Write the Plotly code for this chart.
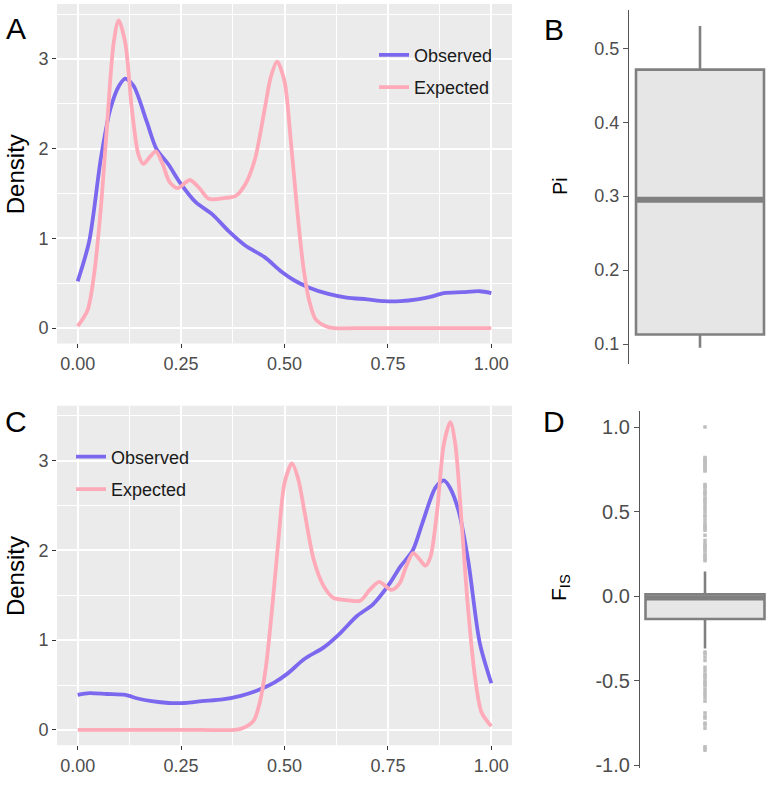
import plotly.graph_objects as go

# ---------------- data ----------------
# Panel A: density curves
obs_a_x = [0, 0.028, 0.056, 0.079, 0.10, 0.115, 0.135, 0.167, 0.19, 0.22, 0.246, 0.286, 0.325,
           0.365, 0.405, 0.452, 0.492, 0.524, 0.56, 0.606, 0.65, 0.7, 0.741, 0.78, 0.821, 0.855,
           0.885, 0.93, 0.972, 1.0]
obs_a_y = [0.52, 0.97, 1.89, 2.44, 2.70, 2.78, 2.70, 2.30, 2.0, 1.82, 1.63, 1.40, 1.27,
           1.08, 0.92, 0.79, 0.63, 0.53, 0.45, 0.38, 0.34, 0.32, 0.30, 0.30, 0.32, 0.35,
           0.39, 0.40, 0.41, 0.39]
exp_a_x = [0, 0.024, 0.040, 0.056, 0.071, 0.087, 0.099, 0.115, 0.131, 0.147, 0.159, 0.175,
           0.189, 0.206, 0.222, 0.242, 0.271, 0.294, 0.317, 0.357, 0.381, 0.405, 0.429, 0.452,
           0.467, 0.482, 0.50, 0.515, 0.53, 0.545, 0.56, 0.575, 0.6, 0.62, 0.7, 0.8, 0.9, 1.0]
exp_a_y = [0.02, 0.20, 0.61, 1.34, 2.26, 3.18, 3.43, 3.18, 2.44, 1.93, 1.83, 1.91,
           1.97, 1.82, 1.63, 1.56, 1.65, 1.56, 1.44, 1.45, 1.47, 1.60, 1.89, 2.44,
           2.80, 2.97, 2.75, 2.10, 1.35, 0.70, 0.30, 0.10, 0.02, 0.0, 0.0, 0.0, 0.0, 0.0]

# Panel C: density curves
obs_c_x = [0, 0.028, 0.07, 0.115, 0.145, 0.179, 0.22, 0.259, 0.3, 0.35, 0.394, 0.44, 0.476,
           0.508, 0.548, 0.595, 0.635, 0.675, 0.714, 0.754, 0.78, 0.81, 0.833, 0.865, 0.885,
           0.90, 0.921, 0.944, 0.972, 1.0]
obs_c_y = [0.39, 0.41, 0.40, 0.39, 0.35, 0.32, 0.30, 0.30, 0.32, 0.34, 0.38, 0.45, 0.53,
           0.63, 0.79, 0.92, 1.08, 1.27, 1.40, 1.63, 1.82, 2.0, 2.30, 2.70, 2.78,
           2.70, 2.44, 1.89, 0.97, 0.52]
exp_c_x = [0, 0.1, 0.2, 0.3, 0.38, 0.4, 0.425, 0.44, 0.455, 0.47, 0.485, 0.50, 0.518, 0.533,
           0.548, 0.571, 0.595, 0.619, 0.643, 0.683, 0.706, 0.729, 0.758, 0.778, 0.794, 0.811,
           0.825, 0.841, 0.853, 0.869, 0.885, 0.901, 0.913, 0.929, 0.944, 0.96, 0.976, 1.0]
exp_c_y = [0.0, 0.0, 0.0, 0.0, 0.0, 0.02, 0.10, 0.30, 0.70, 1.35, 2.10, 2.75, 2.97, 2.80,
           2.44, 1.89, 1.60, 1.47, 1.45, 1.44, 1.56, 1.65, 1.56, 1.63, 1.82, 1.97,
           1.91, 1.83, 1.93, 2.44, 3.18, 3.43, 3.18, 2.26, 1.34, 0.61, 0.20, 0.04]

series_names = ["Observed", "Expected"]
x_tickvals = [0, 0.25, 0.5, 0.75, 1.0]
x_ticktext = ["0.00", "0.25", "0.50", "0.75", "1.00"]
y_tickvals = [0, 1, 2, 3]

# Panel B: Pi box statistics
pi_lower = 0.095
pi_q1 = 0.113
pi_median = 0.2953
pi_q3 = 0.471
pi_upper = 0.530
pi_tickvals = [0.1, 0.2, 0.3, 0.4, 0.5]
pi_ticktext = ["0.1", "0.2", "0.3", "0.4", "0.5"]

# Panel D: FIS box statistics and outliers
fis_lower = -0.309
fis_q1 = -0.135
fis_median = -0.010
fis_q3 = 0.011
fis_upper = 0.146
fis_outliers = [1.0, 0.82, 0.81, 0.80, 0.79, 0.78, 0.77, 0.76, 0.75, 0.74, 0.66, 0.65, 0.64,
                0.62, 0.61, 0.60, 0.58, 0.57, 0.56, 0.55, 0.53, 0.52, 0.50, 0.48, 0.47, 0.45,
                0.43, 0.42, 0.41, 0.40, 0.39, 0.36, 0.33, 0.31, 0.30, 0.29, 0.28, 0.27, 0.25,
                0.24, 0.23, 0.22, 0.21,
                -0.33, -0.34, -0.36, -0.38, -0.42, -0.44, -0.46, -0.47, -0.48, -0.50, -0.51,
                -0.52, -0.53, -0.55, -0.57, -0.58, -0.60, -0.62, -0.69, -0.71, -0.72, -0.75,
                -0.76, -0.78, -0.89, -0.90, -0.91]
fis_tickvals = [-1.0, -0.5, 0.0, 0.5, 1.0]
fis_ticktext = ["-1.0", "-0.5", "0.0", "0.5", "1.0"]

# ---------------- style ----------------
FONT = "Liberation Sans, Arial, sans-serif"
C_OBS = "#7B68EE"
C_EXP = "#FFAAB8"
BOX_LINE = "#808080"
BOX_FILL = "#E6E6E6"
W, H = 770, 786


def px_x(a, b):
    return [a / W, b / W]


def px_y(top, bottom):
    return [1 - bottom / H, 1 - top / H]


fig = go.Figure()

# Panel A
for xs, ys, nm, col, grp in [(obs_a_x, obs_a_y, series_names[0], C_OBS, "a1"),
                              (exp_a_x, exp_a_y, series_names[1], C_EXP, "a2")]:
    fig.add_trace(go.Scatter(x=xs, y=ys, name=nm, mode="lines", xaxis="x", yaxis="y",
                             line=dict(color=col, width=3.8, shape="spline", smoothing=0.8),
                             legend="legend", legendgroup=grp))
# Panel C
for xs, ys, nm, col, grp in [(obs_c_x, obs_c_y, series_names[0], C_OBS, "c1"),
                              (exp_c_x, exp_c_y, series_names[1], C_EXP, "c2")]:
    fig.add_trace(go.Scatter(x=xs, y=ys, name=nm, mode="lines", xaxis="x3", yaxis="y3",
                             line=dict(color=col, width=3.8, shape="spline", smoothing=0.8),
                             legend="legend2", legendgroup=grp))

# Panel B box
B_W = 1.28
fig.add_trace(go.Box(x=[0], q1=[pi_q1], median=[pi_median], q3=[pi_q3],
                     lowerfence=[pi_lower], upperfence=[pi_upper], width=B_W,
                     whiskerwidth=0, boxpoints=False, fillcolor=BOX_FILL,
                     line=dict(color=BOX_LINE, width=2.6), xaxis="x2", yaxis="y2",
                     showlegend=False, hoverinfo="skip"))
fig.add_trace(go.Scatter(x=[-B_W / 2, B_W / 2], y=[pi_median, pi_median], mode="lines",
                         line=dict(color=BOX_LINE, width=6), xaxis="x2", yaxis="y2",
                         showlegend=False, hoverinfo="skip"))

# Panel D box
D_W = 1.19
fig.add_trace(go.Scatter(x=[0] * len(fis_outliers), y=fis_outliers, mode="markers",
                         marker=dict(symbol="square", size=3.5, color="#BEBEBE",
                                     line=dict(width=0)),
                         xaxis="x4", yaxis="y4", showlegend=False, hoverinfo="skip"))
fig.add_trace(go.Box(x=[0], q1=[fis_q1], median=[fis_median], q3=[fis_q3],
                     lowerfence=[fis_lower], upperfence=[fis_upper], width=D_W,
                     whiskerwidth=0, boxpoints=False, fillcolor=BOX_FILL,
                     line=dict(color=BOX_LINE, width=2.6), xaxis="x4", yaxis="y4",
                     showlegend=False, hoverinfo="skip"))
fig.add_trace(go.Scatter(x=[-D_W / 2, D_W / 2], y=[fis_median, fis_median], mode="lines",
                         line=dict(color=BOX_LINE, width=5), xaxis="x4", yaxis="y4",
                         showlegend=False, hoverinfo="skip"))

tickfont = dict(family=FONT, size=18, color="#4D4D4D")

density_x = dict(range=[-0.05, 1.05], tickvals=x_tickvals, ticktext=x_ticktext,
                 showgrid=True, gridcolor="white", gridwidth=2.2,
                 minor=dict(dtick=0.125, tick0=0.125, showgrid=True, gridcolor="white",
                            gridwidth=1.1, ticks=""),
                 ticks="outside", ticklen=4, tickwidth=1.4, tickcolor="#333333",
                 tickfont=tickfont, zeroline=False, showline=False, fixedrange=True)
density_y = dict(range=[-0.172, 3.612], tickvals=y_tickvals,
                 showgrid=True, gridcolor="white", gridwidth=2.2,
                 minor=dict(dtick=1, tick0=0.5, showgrid=True, gridcolor="white",
                            gridwidth=1.1, ticks=""),
                 ticks="outside", ticklen=4, tickwidth=1.4, tickcolor="#333333",
                 tickfont=tickfont, zeroline=False, showline=False, fixedrange=True)

fig.update_layout(
    width=W, height=H, margin=dict(l=0, r=0, t=0, b=0),
    paper_bgcolor="white", plot_bgcolor="white",
    font=dict(family=FONT, color="#1A1A1A"),
    xaxis=dict(domain=px_x(57, 512), anchor="y", **density_x),
    yaxis=dict(domain=px_y(4, 347), anchor="x", **density_y),
    xaxis3=dict(domain=px_x(57, 512), anchor="y3", **density_x),
    yaxis3=dict(domain=px_y(410, 753), anchor="x3", **density_y),
    xaxis2=dict(domain=px_x(629, 770), anchor="y2", range=[-0.71, 0.70], visible=False,
                fixedrange=True),
    yaxis2=dict(domain=px_y(10, 368), anchor="x2", range=[0.0728, 0.5518],
                tickvals=pi_tickvals, ticktext=pi_ticktext, showgrid=False, zeroline=False,
                showline=True, linecolor="#555555", linewidth=1.3,
                ticks="outside", ticklen=5, tickwidth=1.3, tickcolor="#555555",
                tickfont=dict(family=FONT, size=18, color="#4D4D4D"), fixedrange=True),
    xaxis4=dict(domain=px_x(640, 770), anchor="y4", range=[-0.65, 0.65], visible=False,
                fixedrange=True),
    yaxis4=dict(domain=px_y(415, 776), anchor="x4", range=[-1.016, 1.096],
                tickvals=fis_tickvals, ticktext=fis_ticktext, showgrid=False, zeroline=False,
                showline=True, linecolor="#555555", linewidth=1.3,
                ticks="outside", ticklen=5, tickwidth=1.3, tickcolor="#555555",
                tickfont=dict(family=FONT, size=20, color="#4D4D4D"), fixedrange=True),
    legend=dict(x=374 / W, y=1 - 37 / H, xanchor="left", yanchor="top",
                bgcolor="rgba(0,0,0,0)", font=dict(family=FONT, size=18, color="#1A1A1A"),
                traceorder="grouped", tracegroupgap=6, itemwidth=30),
    legend2=dict(x=71 / W, y=1 - 443 / H, xanchor="left", yanchor="top",
                 bgcolor="rgba(0,0,0,0)", font=dict(family=FONT, size=18, color="#1A1A1A"),
                 traceorder="grouped", tracegroupgap=6, itemwidth=30),
    showlegend=True,
)

# gray panel backgrounds for the density panels
for xr, yr in [("x domain", "y domain"), ("x3 domain", "y3 domain")]:
    fig.add_shape(type="rect", xref=xr, yref=yr, x0=0, x1=1, y0=0, y1=1,
                  fillcolor="#EBEBEB", line=dict(width=0), layer="below")

# panel letters and axis titles
def ann(text, xpx, ypx, size, angle=0, color="black"):
    fig.add_annotation(text=text, x=xpx / W, y=1 - ypx / H, xref="paper", yref="paper",
                       showarrow=False, textangle=angle, xanchor="center", yanchor="middle",
                       font=dict(family=FONT, size=size, color=color))

ann("A", 16, 29, 30)
ann("B", 554, 30, 30)
ann("C", 16, 426, 30)
ann("D", 554, 426, 30)
ann("Density", 15, 176, 24, -90)
ann("Density", 15, 582, 24, -90)
ann("Pi", 560, 188, 20, -90)
ann("F<sub>IS</sub>", 560, 594, 21, -90)

fig.write_html("out.html", config={"displayModeBar": False},
               post_script="document.body.style.margin='0px';"
               "document.body.style.overflow='hidden';")
